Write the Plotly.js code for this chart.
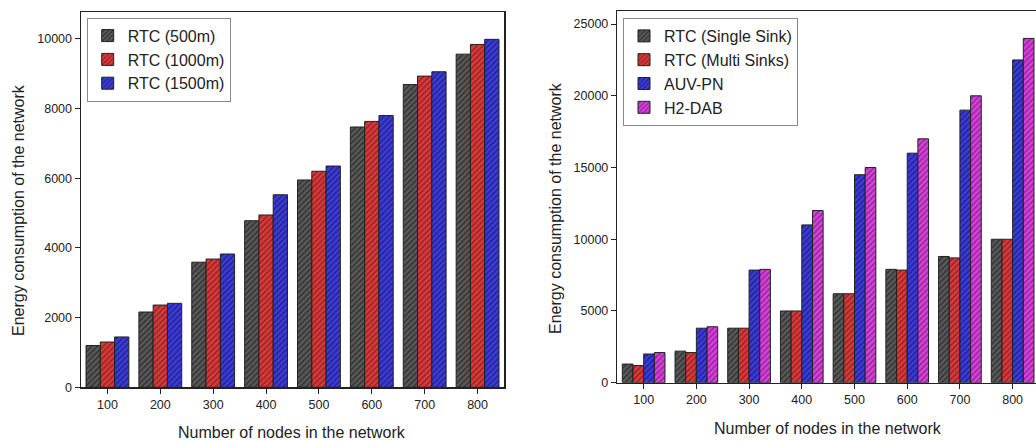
<!DOCTYPE html>
<html><head><meta charset="utf-8">
<script src="https://cdn.plot.ly/plotly-3.0.1.min.js"></script>
<style>html,body{margin:0;padding:0;overflow:hidden;background:#fff;width:1036px;height:441px}</style>
</head><body><div id="chart"></div>
<script>
const nodes = ['100','200','300','400','500','600','700','800'];
const rtc500  = [1200, 2160, 3590, 4780, 5950, 7470, 8690, 9560];
const rtc1000 = [1300, 2360, 3680, 4945, 6200, 7630, 8930, 9840];
const rtc1500 = [1445, 2410, 3825, 5525, 6350, 7800, 9055, 9985];

const singleSink = [1300, 2200, 3800, 5000, 6200, 7900, 8800, 10000];
const multiSinks = [1200, 2100, 3800, 5000, 6200, 7850, 8700, 10000];
const auvpn      = [2000, 3800, 7850, 11000, 14500, 16000, 19000, 22500];
const h2dab      = [2100, 3900, 7900, 12000, 15000, 17000, 20000, 24000];

const FONT = 'Liberation Sans, Arial, sans-serif';
function bar(name, y, color, fg, xa, ya, lg){
  return {type:'bar', name:name, x:nodes, y:y, xaxis:xa, yaxis:ya, legend:lg,
    marker:{color:color, line:{color:'#222', width:1},
      pattern:{shape:'/', fillmode:'replace', bgcolor:color, fgcolor:fg, size:4, solidity:0.35}}};
}
const traces = [
  bar('RTC (500m)', rtc500, '#5a5a5a', '#2e2e2e', 'x', 'y', 'legend'),
  bar('RTC (1000m)', rtc1000, '#dc3a3a', '#8e2222', 'x', 'y', 'legend'),
  bar('RTC (1500m)', rtc1500, '#3c3cdc', '#202085', 'x', 'y', 'legend'),
  bar('RTC (Single Sink)', singleSink, '#5a5a5a', '#2e2e2e', 'x2', 'y2', 'legend2'),
  bar('RTC (Multi Sinks)', multiSinks, '#dc3a3a', '#8e2222', 'x2', 'y2', 'legend2'),
  bar('AUV-PN', auvpn, '#3c3cdc', '#202085', 'x2', 'y2', 'legend2'),
  bar('H2-DAB', h2dab, '#d842dc', '#8c248e', 'x2', 'y2', 'legend2'),
];
const W = 1040, H = 441;
const axCommon = {showline:true, linecolor:'#222', linewidth:1.5, mirror:true,
  ticks:'outside', ticklen:5, tickcolor:'#222', showgrid:false, zeroline:false,
  tickfont:{family:FONT, size:12.5, color:'#222'}, fixedrange:true, automargin:false};
const xCommon = Object.assign({}, axCommon, {type:'category', range:[-0.5, 7.5]});
const yCommon = Object.assign({}, axCommon, {type:'linear', tickformat:'d', separatethousands:false, exponentformat:'none'});
const layout = {
  width:W, height:H, margin:{l:0, r:0, t:0, b:0}, paper_bgcolor:'#fff', plot_bgcolor:'#fff',
  barmode:'group', bargap:0.19, bargroupgap:0,
  font:{family:FONT, color:'#222'},
  xaxis:Object.assign({}, xCommon, {domain:[81/W, 504/W], anchor:'y'}),
  yaxis:Object.assign({}, yCommon, {domain:[(H-387.3)/H, (H-12)/H], range:[0, 10770], dtick:2000, anchor:'x'}),
  xaxis2:Object.assign({}, xCommon, {domain:[617.3/W, 1039/W], anchor:'y2'}),
  yaxis2:Object.assign({}, yCommon, {domain:[(H-382.7)/H, (H-11.3)/H], range:[0, 25890], dtick:5000, anchor:'x2'}),
  legend:{x:86.7/W, y:(H-17.7)/H, xanchor:'left', yanchor:'top', bgcolor:'#fff', bordercolor:'#888', borderwidth:1,
    font:{family:FONT, size:16, color:'#222'}, itemwidth:30, tracegroupgap:0},
  legend2:{x:623/W, y:(H-18)/H, xanchor:'left', yanchor:'top', bgcolor:'#fff', bordercolor:'#888', borderwidth:1,
    font:{family:FONT, size:16, color:'#222'}, itemwidth:30, tracegroupgap:0},
  annotations:[
    {text:'Number of nodes in the network', xref:'paper', yref:'paper', x:292/W, y:(H-432)/H, xanchor:'center', yanchor:'middle', showarrow:false, font:{family:FONT, size:16, color:'#222'}},
    {text:'Number of nodes in the network', xref:'paper', yref:'paper', x:828/W, y:(H-428)/H, xanchor:'center', yanchor:'middle', showarrow:false, font:{family:FONT, size:16, color:'#222'}},
    {text:'Energy consumption of the network', xref:'paper', yref:'paper', x:18/W, y:(H-210)/H, xanchor:'center', yanchor:'middle', textangle:-90, showarrow:false, font:{family:FONT, size:16, color:'#222'}},
    {text:'Energy consumption of the network', xref:'paper', yref:'paper', x:555/W, y:(H-208)/H, xanchor:'center', yanchor:'middle', textangle:-90, showarrow:false, font:{family:FONT, size:16, color:'#222'}}
  ],
  showlegend:true
};
Plotly.newPlot('chart', traces, layout, {staticPlot:true, displayModeBar:false});
</script></body></html>
